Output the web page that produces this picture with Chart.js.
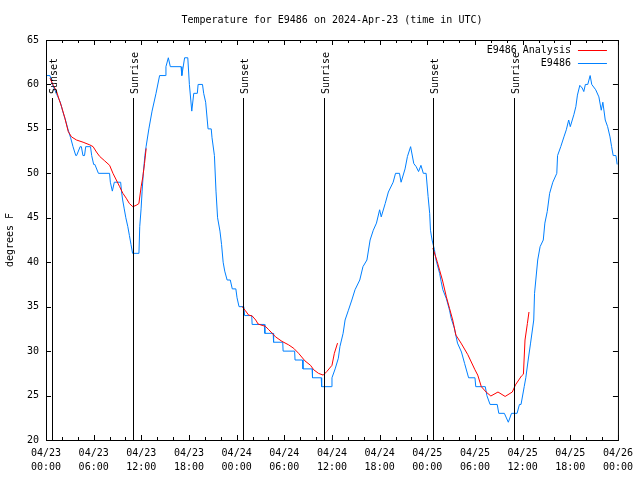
<!DOCTYPE html>
<html><head><meta charset="utf-8">
<script src="https://cdn.jsdelivr.net/npm/chart.js@4"></script>
<style>html,body{margin:0;padding:0;background:#fff}</style>
</head><body>
<canvas id="c" width="640" height="480"></canvas>
<script>
const titleText = 'Temperature for E9486 on 2024-Apr-23 (time in UTC)';
const yAxisTitle = 'degrees F';
const xTickDates = ['04/23','04/23','04/23','04/23','04/24','04/24','04/24','04/24','04/25','04/25','04/25','04/25','04/26'];
const xTickTimes = ['00:00','06:00','12:00','18:00','00:00','06:00','12:00','18:00','00:00','06:00','12:00','18:00','00:00'];
const eventHours = [0.75, 10.93, 24.83, 34.98, 48.75, 58.9];
const eventLabels = ['Sunset','Sunrise','Sunset','Sunrise','Sunset','Sunrise'];
const seriesLabels = ['E9486 Analysis', 'E9486'];

// observed (E9486): hour since 04/23 00:00 UTC, temperature F
const obsHours = [0.08,0.5,0.8,1.3,1.8,2.1,2.45,2.75,3.1,3.4,3.75,3.85,4.3,4.45,4.65,4.85,5.0,5.6,5.75,6.0,6.15,6.6,8.0,8.1,8.35,8.6,9.4,9.5,9.65,9.85,10.05,10.3,10.5,10.7,10.9,11.7,
11.8,11.97,12.1,12.25,12.45,12.6,12.95,13.35,13.85,14.3,15.0,15.1,15.4,15.65,17.0,17.1,17.45,17.85,18.05,18.35,18.6,19.05,19.15,19.7,
19.85,20.1,20.3,20.4,20.8,20.9,21.2,21.4,21.6,21.9,22.1,22.3,22.5,22.8,23.2,23.45,23.9,24.05,24.15,24.3,24.9,25.0,25.9,25.95,27.5,27.55,28.6,28.65,
29.8,29.85,31.3,31.35,32.3,32.35,33.5,33.55,34.65,34.7,35.9,
36.0,36.4,36.8,37.0,37.4,37.65,38.07,38.5,38.9,39.5,39.9,40.4,40.8,41.2,41.6,42.0,42.2,42.7,43.1,43.7,44.0,44.5,44.7,45.2,45.5,45.9,46.3,46.6,46.9,47.2,47.5,47.85,
48.1,48.3,48.4,48.6,48.9,49.1,49.55,49.75,49.96,50.4,50.8,51.0,51.4,51.8,52.3,52.7,53.2,54.0,54.1,55.3,55.5,55.9,56.8,57.0,57.7,58.2,58.6,59.3,59.6,59.8,
60.2,60.4,60.7,61.0,61.4,61.5,61.9,62.2,62.6,62.8,63.1,63.4,63.8,64.3,64.4,64.8,65.2,65.5,65.8,66.0,66.45,66.7,66.9,67.2,67.5,67.7,67.9,68.2,68.5,68.7,
69.2,69.6,69.9,70.1,70.4,70.7,71.0,71.2,71.4,71.75,71.9,72.0];
const obsTemps = [61,61,60,59,58,57,56,55,54,53,52,52,53,53,52,52,53,53,52,51,51,50,50,49,48,49,49,48,47,46,45,44,43,42,41,41,
44,46,48,50,52,53,55,57,59,61,61,62,63,62,62,61,63,63,60,57,59,59,60,60,
59,58,56,55,55,54,52,48,45,43.5,42,40,39,38,38,37,37,36,36,35,35,34,34,33,33,32,32,31,
31,30,30,29,29,28,28,27,27,26,26,
27,28,29.2,30.5,32,33.5,34.6,35.75,36.9,38,39.5,40.25,42.5,43.6,44.4,45.9,45.1,46.6,47.9,49,50,50,49,50.5,51.9,53,51.1,50.75,50.2,50.9,50,50,
47.4,45.5,43.6,42.5,41.4,40.25,38.75,37.8,36.9,35.9,34.6,33.7,32.6,30.9,29.9,28.6,27,27,26,26,25,24,24,23,23,22,23,23,24,24,
26,27,29,30.9,33.5,36.5,40.25,41.75,42.5,44.4,45.7,47.75,49,50,52,53,54.1,54.9,56,55.25,56.6,57.5,58.8,59.9,59.6,59.2,60,60,61,60,
59.4,58.6,57.1,58,56,55.25,54.1,53,52,52,51,51];

// analysis series (null = gap)
const anaHours = [0.5,0.92,1.34,1.67,1.96,2.38,2.8,3.21,3.84,4.67,5.51,5.93,6.35,6.76,7.39,8.01,8.43,8.85,9.27,9.68,10.1,10.5,10.93,11.35,11.69,11.98,12.19,12.4,12.61,
18,
24.7,25.1,25.5,25.96,26.4,26.7,27.2,27.6,28.05,28.9,29.7,30.55,31.2,31.8,32.6,33.3,33.7,34.3,34.9,35.35,36.0,36.3,36.7,
42,
48.7,49.25,49.55,49.9,50.4,50.8,51.2,51.6,52.25,53.1,54.0,54.35,54.8,55.4,56.0,56.9,57.8,58.7,59.1,59.85,60.1,60.3,60.6,60.8];
const anaTemps = [60.7,59.9,59.2,58.25,57.5,56.2,54.7,54.1,53.75,53.5,53.2,53.0,52.4,51.9,51.4,50.9,50.0,49.25,48.5,47.75,47.2,46.6,46.25,46.4,46.6,48.5,49.6,51.1,52.8,
null,
35.0,34.55,34.06,33.95,33.5,33.05,32.9,32.8,32.4,31.6,31.1,30.7,30.3,29.75,28.9,28.4,27.9,27.5,27.3,27.7,28.4,29.75,30.9,
null,
41.6,40.06,39.1,38.0,36.1,34.8,33.5,31.8,30.9,29.6,27.9,27.3,26.0,25.4,24.95,25.4,24.9,25.4,26.2,27.2,27.4,31.25,33.1,34.4];

const FONT = {family: "'DejaVu Sans Mono', monospace", size: 10};
const fontStr = "10px 'DejaVu Sans Mono', monospace";

const decor = {
  id: 'decor',
  beforeDraw(chart) {
    const ctx = chart.ctx;
    ctx.save(); ctx.fillStyle = '#fff'; ctx.fillRect(0, 0, chart.width, chart.height); ctx.restore();
  },
  afterDatasetsDraw(chart) {
    const {ctx, chartArea: a, scales: {x, y}} = chart;
    ctx.save();
    ctx.strokeStyle = '#000'; ctx.fillStyle = '#000'; ctx.lineWidth = 1;
    ctx.font = fontStr;
    eventHours.forEach((h, i) => {
      const px = Math.round(x.getPixelForValue(h)) + 0.5;
      ctx.beginPath(); ctx.moveTo(px, a.top + 58); ctx.lineTo(px, a.bottom); ctx.stroke();
      ctx.save();
      ctx.translate(px + 1.5, a.top + 54);
      ctx.rotate(-Math.PI / 2);
      ctx.textAlign = 'left'; ctx.textBaseline = 'middle';
      ctx.fillText(eventLabels[i], 0, 0);
      ctx.restore();
    });
    ctx.strokeRect(a.left + 0.5, a.top + 0.5, a.right - a.left, a.bottom - a.top);
    ctx.beginPath();
    for (let h = x.min; h <= x.max; h += 2) {
      const px = Math.round(x.getPixelForValue(h)) + 0.5;
      const len = (h % 6 === 0) ? 5 : 3;
      ctx.moveTo(px, a.bottom); ctx.lineTo(px, a.bottom - len);
      ctx.moveTo(px, a.top); ctx.lineTo(px, a.top + len);
    }
    for (let v = y.min; v <= y.max; v += 5) {
      const py = Math.round(y.getPixelForValue(v)) + 0.5;
      ctx.moveTo(a.left, py); ctx.lineTo(a.left + 5, py);
      ctx.moveTo(a.right, py); ctx.lineTo(a.right - 5, py);
    }
    ctx.stroke();
    chart.data.datasets.forEach((ds, i) => {
      const ly = a.top + 10 + 13 * i + 0.5;
      ctx.fillStyle = '#000';
      ctx.textAlign = 'right'; ctx.textBaseline = 'middle';
      ctx.fillText(ds.label, a.right - 47, ly);
      ctx.strokeStyle = ds.borderColor;
      ctx.beginPath(); ctx.moveTo(a.right - 40, ly); ctx.lineTo(a.right - 11, ly); ctx.stroke();
    });
    ctx.restore();
  }
};

new Chart(document.getElementById('c'), {
  type: 'line',
  data: {
    datasets: [
      {
        label: seriesLabels[0],
        data: anaHours.map((h, i) => ({x: h, y: anaTemps[i]})),
        borderColor: '#ff0000', borderWidth: 1, pointRadius: 0, spanGaps: false, tension: 0
      },
      {
        label: seriesLabels[1],
        data: obsHours.map((h, i) => ({x: h, y: obsTemps[i]})),
        borderColor: '#0080ff', borderWidth: 1, pointRadius: 0, tension: 0
      }
    ]
  },
  options: {
    responsive: false, animation: false, devicePixelRatio: 1,
    layout: {padding: {left: 0, right: 19, top: 0, bottom: 0}},
    plugins: {
      legend: {display: false},
      tooltip: {enabled: false},
      title: {
        display: true, text: titleText, color: '#000', fullSize: false,
        font: {...FONT, weight: 'normal', lineHeight: 1.2},
        padding: {top: 14, bottom: 14}
      }
    },
    scales: {
      x: {
        type: 'linear', min: 0, max: 72,
        grid: {display: false, drawTicks: false}, border: {display: false},
        afterFit(s) { s.height = 40; },
        afterBuildTicks(s) { s.ticks = xTickDates.map((d, i) => ({value: i * 6})); },
        ticks: {
          autoSkip: false, maxRotation: 0, minRotation: 0, padding: 7, color: '#000',
          font: {...FONT, lineHeight: 1.35},
          callback: (v) => [xTickDates[v / 6], xTickTimes[v / 6]]
        }
      },
      y: {
        type: 'linear', min: 20, max: 65,
        grid: {display: false, drawTicks: false}, border: {display: false},
        afterFit(s) { s.width = 46; },
        ticks: {stepSize: 5, padding: 7, color: '#000', font: FONT},
        title: {display: true, text: yAxisTitle, color: '#000', font: FONT, padding: {top: 4, bottom: 0}}
      }
    }
  },
  plugins: [decor]
});
</script>
</body></html>
